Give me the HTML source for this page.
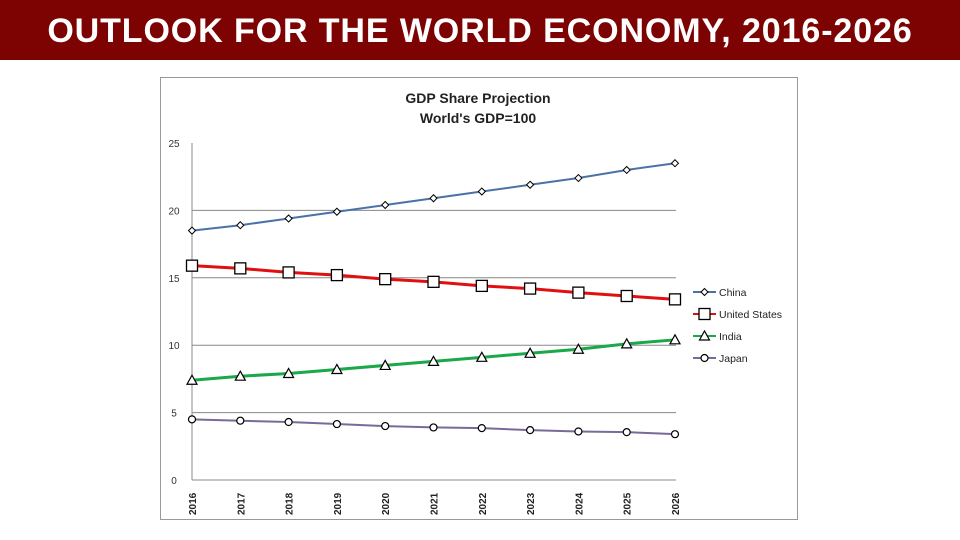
<!DOCTYPE html>
<html><head><meta charset="utf-8"><style>
body{margin:0;width:960px;height:540px;background:#fff;overflow:hidden;font-family:"Liberation Sans",sans-serif}
#hdr{position:absolute;left:0;top:0;width:960px;height:60px;background:#7d0202;color:#fff;font-weight:bold;font-size:34px;text-align:center;line-height:62px;letter-spacing:0.9px;white-space:nowrap}
svg{position:absolute;left:0;top:0}
</style></head><body>
<div id="hdr">OUTLOOK FOR THE WORLD ECONOMY, 2016-2026</div>
<svg id="c" width="960" height="540"></svg>
<script>
const years=[2016,2017,2018,2019,2020,2021,2022,2023,2024,2025,2026];
const china=[18.5,18.9,19.4,19.9,20.4,20.9,21.4,21.9,22.4,23.0,23.5];
const us=[15.9,15.7,15.4,15.2,14.9,14.7,14.4,14.2,13.9,13.65,13.4];
const india=[7.4,7.7,7.9,8.2,8.5,8.8,9.1,9.4,9.7,10.1,10.4];
const japan=[4.5,4.4,4.3,4.15,4.0,3.9,3.85,3.7,3.6,3.55,3.4];
const yTicks=[0,5,10,15,20,25];
const names=["China","United States","India","Japan"];
const NS="http://www.w3.org/2000/svg";
const svg=document.getElementById('c');
function mk(t,a,p){const e=document.createElementNS(NS,t);for(const k in a)e.setAttribute(k,a[k]);(p||svg).appendChild(e);return e;}
const x=i=>192+i*(675-192)/(years.length-1);
const y=v=>480-v*(480-143)/25;
const frame=mk('rect',{x:160.5,y:77.5,width:637,height:442,fill:'#fff',stroke:'#999'});


const t1=mk('text',{x:478,y:103,'text-anchor':'middle','font-size':14,'font-weight':'bold',fill:'#222'});t1.textContent='GDP Share Projection';


const t2=mk('text',{x:478,y:123,'text-anchor':'middle','font-size':14,'font-weight':'bold',fill:'#222'});t2.textContent="World's GDP=100";


yTicks.forEach(v=>{
 if(v>0&&v<25){const g=mk('line',{x1:192,x2:676,y1:y(v),y2:y(v),stroke:'#888','stroke-width':1});
 
 }
 const t=mk('text',{x:174,y:y(v)+4,'text-anchor':'middle','font-size':10,fill:'#333'});t.textContent=v;
 
 
});
mk('line',{x1:192,x2:192,y1:143,y2:480,stroke:'#888'});
mk('line',{x1:192,x2:676,y1:480,y2:480,stroke:'#888'});
years.forEach((yr,i)=>{
 const t=mk('text',{transform:`translate(${x(i)+4},${515}) rotate(-90)`,'font-size':10,'font-weight':'bold',fill:'#222'});t.textContent=yr;
 
 
});
const series=[china,us,india,japan];
const colors=['#4a72a8','#e01010','#1aa84a','#7a6a9a'];
const widths=[2,3,3,2];
function marker(k,cx,cy,g){
 if(k===0)return mk('path',{d:`M${cx} ${cy-3.5}L${cx+3.5} ${cy}L${cx} ${cy+3.5}L${cx-3.5} ${cy}Z`,fill:'#fff',stroke:'#000','stroke-width':1},g);
 if(k===1)return mk('rect',{x:cx-5.5,y:cy-5.5,width:11,height:11,fill:'#fff',stroke:'#000','stroke-width':1.3},g);
 if(k===2)return mk('path',{d:`M${cx} ${cy-5}L${cx+5} ${cy+4}L${cx-5} ${cy+4}Z`,fill:'#fff',stroke:'#000','stroke-width':1.2},g);
 return mk('circle',{cx,cy,r:3.5,fill:'#fff',stroke:'#000','stroke-width':1.2},g);
}
series.forEach((s,k)=>{
 const g=mk('g',{});
 
 
 mk('polyline',{points:s.map((v,i)=>x(i)+','+y(v)).join(' '),fill:'none',stroke:colors[k],'stroke-width':widths[k]},g);
 s.forEach((v,i)=>{const m=marker(k,x(i),y(v),g);
  
  });
 const ly=292+k*22;
 const lg=mk('g',{});
 
 
 mk('line',{x1:693,x2:716,y1:ly,y2:ly,stroke:colors[k],'stroke-width':2},lg);
 marker(k,704.5,ly,lg);
 const t=mk('text',{x:719,y:ly+4,'font-size':10.5,fill:'#222'},lg);t.textContent=names[k];
});
</script>
</body></html>
